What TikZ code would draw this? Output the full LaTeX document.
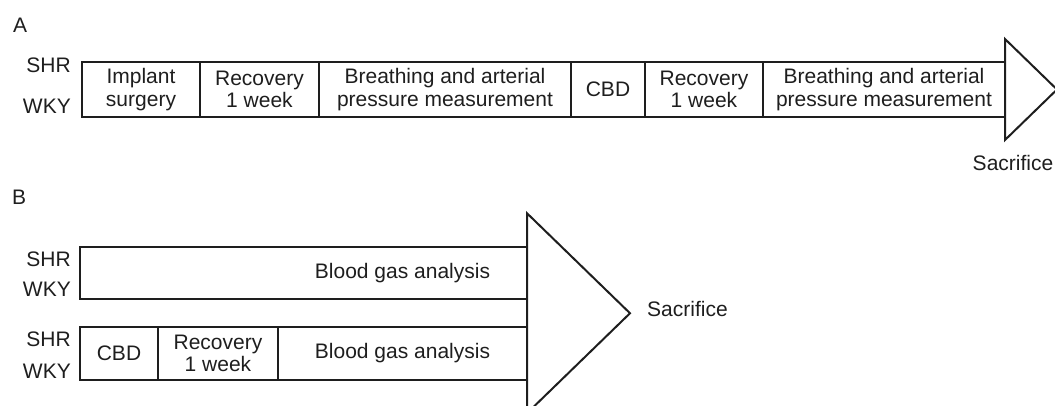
\documentclass[tikz,border=0pt]{standalone}
\usepackage{fontspec}
\setmainfont{Liberation Sans}
\usetikzlibrary{positioning,calc}
\definecolor{linegray}{RGB}{30,30,30}

\begin{document}
\begin{tikzpicture}[
    x=1pt, y=-1pt,
    font=\fontsize{21}{22.5}\selectfont,
    every node/.style={text=linegray},
    stage/.style={rectangle, draw=linegray, line width=2pt, outer sep=0pt, inner sep=0pt, minimum height=55pt, align=center},
    tag/.style={inner sep=0pt, anchor=base east},
    head/.style={draw=linegray, line width=2pt, line join=miter}
]
    \useasboundingbox (0,0) rectangle (1055,406);

    \node[inner sep=0pt, anchor=base west] (labA) at (13,33) {A};
    \node[inner sep=0pt, anchor=base west] (labB) at (12,205) {B};

    \node[stage, minimum width=118pt, anchor=west] (implant) at (82,89.5) {Implant\\surgery};
    \node[stage, minimum width=119pt, right=0pt of implant] (recovA) {Recovery\\1 week};
    \node[stage, minimum width=252pt, right=0pt of recovA] (breathA) {Breathing and arterial\\pressure measurement};
    \node[stage, minimum width=74pt, right=0pt of breathA] (cbdA) {CBD};
    \node[stage, minimum width=118pt, right=0pt of cbdA] (recovB) {Recovery\\1 week};
    \node[stage, minimum width=242pt, right=0pt of recovB] (breathB) {Breathing and arterial\\pressure measurement};
    \draw[head] ($(breathB.east)+(0,-50.5)$) -- ($(breathB.east)+(52,0)$) -- ($(breathB.east)+(0,50.5)$) -- cycle;
    \node[inner sep=0pt, anchor=base] (sacA) at (1013,171) {Sacrifice};

    \node[tag] (shrA) at (71,73) {SHR};
    \node[tag] (wkyA) at (71,114) {WKY};

    \node[stage, minimum width=447pt, minimum height=52pt, anchor=west] (gasOnly) at (80,273) {};
    \node[stage, minimum width=78pt, minimum height=53pt, anchor=west] (cbdB) at (80,353.5) {CBD};
    \node[stage, minimum width=120pt, minimum height=53pt, right=0pt of cbdB] (recovC) {Recovery\\1 week};
    \node[stage, minimum width=249pt, minimum height=53pt, right=0pt of recovC] (gasCbd) {Blood gas analysis};
    \node[inner sep=0pt] (gasText) at (gasOnly -| gasCbd) {Blood gas analysis};
    \coordinate (mid) at ($(gasOnly.east)!0.5!(gasCbd.east)$);
    \draw[head] ($(mid)+(0,-100)$) -- ($(mid)+(103,0)$) -- ($(mid)+(0,100)$) -- cycle;
    \node[inner sep=0pt, anchor=base west] (sacB) at (647,316) {Sacrifice};

    \node[tag] (shrB) at (71,266) {SHR};
    \node[tag] (wkyB) at (71,296.5) {WKY};
    \node[tag] (shrC) at (71,346) {SHR};
    \node[tag] (wkyC) at (71,378) {WKY};
\end{tikzpicture}
\end{document}
